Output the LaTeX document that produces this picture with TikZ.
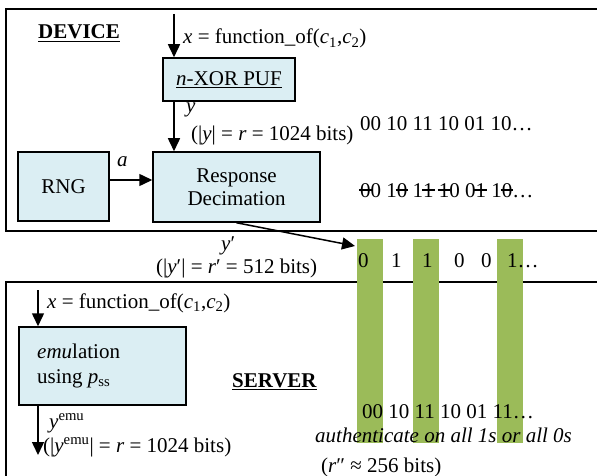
\documentclass[tikz,border=0pt]{standalone}
\usepackage{fontspec}
\setmainfont{Liberation Serif}
\usetikzlibrary{arrows.meta}
\definecolor{boxfill}{HTML}{DBEEF3}
\definecolor{selgreen}{HTML}{9BBB59}
% strike one character through its middle
\newcommand\struck[1]{\makebox[0pt][l]{\hspace{-0.06em}\rule[0.3em]{0.6em}{0.06em}}#1}
\tikzset{
  frame/.style={draw=black, line width=2pt},
  block/.style={draw=black, line width=1.5pt, fill=boxfill, inner sep=0pt, align=center},
  flow/.style={draw=black, line width=1.5pt, -{Triangle[width=12pt,length=13pt]}},
  lbl/.style={anchor=base west, inner sep=0pt},
  selbar/.style={fill=selgreen, draw=none},
}
\begin{document}
\begin{tikzpicture}[x=1pt, y=-1pt, font=\fontsize{21}{25}\selectfont]
\clip (0,0) rectangle (597,476);
\fill[white] (0,0) rectangle (597,476);

% device and server frames (open to the right and below)
\draw[frame] (6,9) rectangle (620,231);
\draw[frame] (6,282) rectangle (620,500);

% selected bit positions
\fill[selbar] (357,239) rectangle (383,443);
\fill[selbar] (413,239) rectangle (439,443);
\fill[selbar] (497,239) rectangle (523,443);

% ---------- device ----------
\node[lbl] (devlbl) at (38,39) {\underline{\textbf{DEVICE}}};
\node[block, minimum width=132pt, minimum height=43pt] (puf) at (229,79.5) {\underline{\textit{n}-XOR PUF}};
\node[block, minimum width=91pt, minimum height=69pt] (rng) at (63.5,186.5) {RNG};
\node[block, minimum width=167pt, minimum height=70pt] (rd) at (236.5,187) {Response\\[-2pt]Decimation};

\coordinate (xin) at (174,14);
\coordinate (ay) at (0,180);
\node[lbl] (xdev) at (183,44) {\textit{x} = function\_of(\textit{c}\textsubscript{1},\textit{c}\textsubscript{2})};
\node[lbl] (ylbl) at (186,113) {\textit{y}};
\node[lbl] (ylen) at (191,141) {(|\textit{y}| = \textit{r} = 1024 bits)};
\node[lbl] (albl) at (117,166) {\textit{a}};
\node[lbl] (raw) at (360,131) {00 10 11 10 01 10\dots};
\node[lbl] (dec) at (360,197) {\struck{0}0 1\struck{0} 1\struck{1} \struck{1}0 0\struck{1} 1\struck{0}\dots};

\draw[flow] (xin) -- (xin |- puf.north);
\draw[flow] (xin |- puf.south) -- (xin |- rd.north);
\draw[flow] (rng.east |- ay) -- (rd.west |- ay);

% ---------- decimated response ----------
\coordinate (bitsin) at (355,246);
\draw[flow] (rd.south) -- (bitsin);
\node[lbl] (yplbl) at (221,250) {\textit{y}′};
\node[lbl] (yplen) at (156,273) {(|\textit{y}′| = \textit{r}′ = 512 bits)};
\node[lbl] (bitA) at (358,267) {0};
\node[lbl] (bitB) at (391,267) {1};
\node[lbl] (bitC) at (422,267) {1};
\node[lbl] (bitD) at (454,267) {0};
\node[lbl] (bitE) at (481,267) {0};
\node[lbl] (bitF) at (507,267) {1\dots};

% ---------- server ----------
\coordinate (xsrv) at (38,290);
\coordinate (yout) at (38,455);
\node[lbl] (xsrvlbl) at (47,308) {\textit{x} = function\_of(\textit{c}\textsubscript{1},\textit{c}\textsubscript{2})};
\node[block, minimum width=167pt, minimum height=78pt] (emu) at (102.5,366) {};
\node[lbl] (emut1) at (37,358) {\textit{emu}lation};
\node[lbl] (emut2) at (37,383) {using \textit{p}\textsubscript{ss}};
\node[lbl] (srvlbl) at (232,387) {\underline{\textbf{SERVER}}};
\node[lbl] (yelbl) at (49,428) {\textit{y}\textsuperscript{emu}};
\node[lbl] (yelen) at (43,452) {(|\textit{y}\textsuperscript{emu}| = \textit{r} = 1024 bits)};
\node[lbl] (emubits) at (362,418) {00 10 11 10 01 11\dots};
\node[lbl] (auth) at (315,442) {\textit{authenticate on all 1s or all 0s}};
\node[lbl] (rpp) at (321,472) {(\textit{r}″ ≈ 256 bits)};

\draw[flow] (xsrv) -- (xsrv |- emu.north);
\draw[flow] (xsrv |- emu.south) -- (yout);
\end{tikzpicture}
\end{document}
